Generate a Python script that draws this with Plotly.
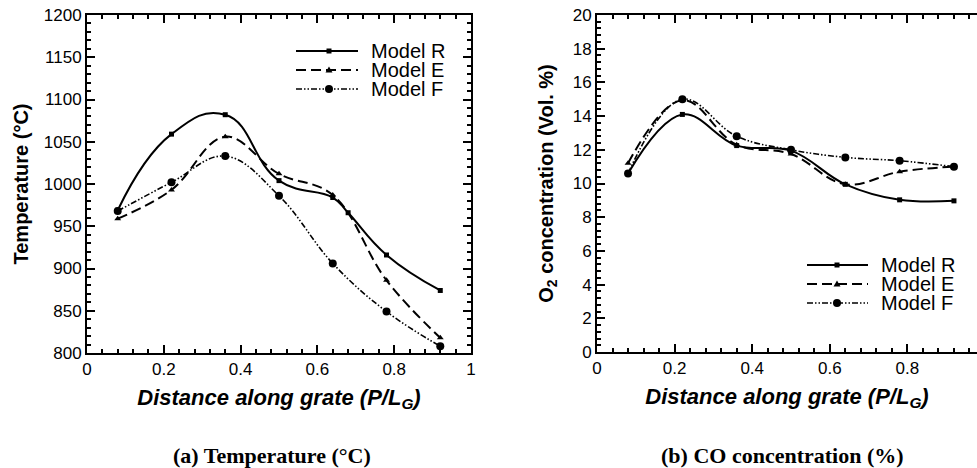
import plotly.graph_objects as go

# ---------------- data ----------------
series_names = ["Model R", "Model E", "Model F"]

# (a) Temperature
temp_x_R = [0.08, 0.22, 0.36, 0.50, 0.64, 0.68, 0.78, 0.92]
temp_R = [969, 1059, 1082, 1004, 984, 966, 916, 874]
temp_x_E = [0.08, 0.22, 0.36, 0.50, 0.64, 0.78, 0.92]
temp_E = [959, 993, 1056, 1012, 987, 886, 818]
temp_x_F = [0.08, 0.22, 0.36, 0.50, 0.64, 0.78, 0.92]
temp_F = [968, 1002, 1033, 986, 906, 849, 808]

# (b) O2 concentration
o2_x = [0.08, 0.22, 0.36, 0.50, 0.64, 0.78, 0.92]
o2_R = [10.6, 14.1, 12.25, 11.95, 9.95, 9.03, 8.97]
o2_E = [11.2, 14.95, 12.3, 11.75, 9.95, 10.7, 11.0]
o2_F = [10.6, 15.0, 12.8, 12.0, 11.55, 11.35, 11.0]

x_ticks = [0, 0.2, 0.4, 0.6, 0.8, 1]

# ---------------- styles ----------------
W, H = 977, 468          # browser window (page body margin removed below)
FONT = "Liberation Sans, Arial, Helvetica, sans-serif"
SERIF = "Liberation Serif, Times New Roman, serif"
DASH_E = "10px,5px"
DASH_F = "6px,2px,1.5px,2px,1.5px,2px"
styles = {
    "Model R": dict(dash="solid", width=2, symbol="square", msize=5),
    "Model E": dict(dash=DASH_E, width=2, symbol="triangle-up", msize=6),
    "Model F": dict(dash=DASH_F, width=1.6, symbol="circle", msize=8),
}


def px_x(p):
    return p / W


def px_y(p):
    return 1 - p / H


fig = go.Figure()


def add_series(xs, ys, name, xa, ya, smoothing=1.0):
    s = styles[name]
    fig.add_trace(go.Scatter(
        x=xs, y=ys, name=name, mode="lines+markers", xaxis=xa, yaxis=ya,
        line=dict(color="black", width=s["width"], dash=s["dash"], shape="spline", smoothing=smoothing),
        marker=dict(color="black", size=s["msize"], symbol=s["symbol"]),
        showlegend=False,
    ))


add_series(temp_x_R, temp_R, "Model R", "x", "y", 1.3)
add_series(temp_x_E, temp_E, "Model E", "x", "y", 1.1)
add_series(temp_x_F, temp_F, "Model F", "x", "y", 1.1)
add_series(o2_x, o2_R, "Model R", "x2", "y2", 1.1)
add_series(o2_x, o2_E, "Model E", "x2", "y2", 1.1)
add_series(o2_x, o2_F, "Model F", "x2", "y2", 1.1)

tickfont = dict(family=FONT, size=17, color="black")
titlefont = dict(family=FONT, size=20, color="black", weight="bold")
xtitlefont = dict(family=FONT, size=22, color="black", weight="bold", style="italic")

common_axis = dict(
    showgrid=False, zeroline=False, showline=True, linecolor="black", linewidth=2,
    ticks="inside", ticklen=8, tickwidth=1.5, tickcolor="black",
    tickfont=tickfont, automargin=False, ticklabeloverflow="allow",
)

fig.update_layout(
    width=W, height=H,
    margin=dict(l=0, r=0, t=0, b=0),
    paper_bgcolor="white", plot_bgcolor="white",
    xaxis=dict(common_axis, domain=[px_x(87), px_x(471)], range=[0, 1], tickvals=x_ticks,
               mirror="ticks", anchor="y",
               minor=dict(dtick=0.04, ticks="inside", ticklen=4, tickcolor="black"),
               title=dict(text="Distance along grate (P/L<sub>G</sub>)", font=xtitlefont, standoff=11)),
    yaxis=dict(common_axis, domain=[px_y(353), px_y(15)], range=[800, 1200], dtick=50,
               mirror="ticks", anchor="x",
               minor=dict(dtick=10, ticks="inside", ticklen=4, tickcolor="black"),
               title=dict(text="Temperature (°C)", font=titlefont, standoff=10)),
    xaxis2=dict(common_axis, domain=[px_x(597), 1.0], range=[0, (W - 597) / 388.0], tickvals=x_ticks,
                mirror="ticks", anchor="y2",
                minor=dict(dtick=0.04, ticks="inside", ticklen=4, tickcolor="black"),
                title=dict(text="Distance along grate (P/L<sub>G</sub>)", font=xtitlefont, standoff=11)),
    yaxis2=dict(common_axis, domain=[px_y(352), px_y(15)], range=[0, 20], dtick=2,
                mirror=False, anchor="x2",
                minor=dict(dtick=0.4, ticks="inside", ticklen=4, tickcolor="black"),
                title=dict(text="O<sub>2</sub> concentration (Vol. %)", font=titlefont, standoff=14)),
    yaxis3=dict(overlaying="y2", side="right", anchor="x2", range=[0, 20], dtick=2,
                showgrid=False, zeroline=False, showline=False, showticklabels=False,
                ticks="inside", ticklen=8, tickwidth=1.5, tickcolor="black",
                minor=dict(dtick=0.4, ticks="inside", ticklen=3, tickcolor="black")),
)

# ---------------- manual legends ----------------
shapes = []
annotations = []


def legend_entry(x0, x1, xm, yc, name):
    s = styles[name]
    shapes.append(dict(type="line", xref="paper", yref="paper",
                       x0=px_x(x0), x1=px_x(x1), y0=px_y(yc), y1=px_y(yc),
                       line=dict(color="black", width=s["width"], dash=s["dash"])))
    if s["symbol"] == "square":
        r = 2.5
        shapes.append(dict(type="rect", xref="paper", yref="paper",
                           x0=px_x(xm - r), x1=px_x(xm + r), y0=px_y(yc + r), y1=px_y(yc - r),
                           fillcolor="black", line=dict(width=0)))
    elif s["symbol"] == "circle":
        r = 4
        shapes.append(dict(type="circle", xref="paper", yref="paper",
                           x0=px_x(xm - r), x1=px_x(xm + r), y0=px_y(yc + r), y1=px_y(yc - r),
                           fillcolor="black", line=dict(width=0)))
    else:
        r = 3.5
        path = "M {} {} L {} {} L {} {} Z".format(
            px_x(xm - r), px_y(yc + r * 0.7), px_x(xm + r), px_y(yc + r * 0.7), px_x(xm), px_y(yc - r))
        shapes.append(dict(type="path", xref="paper", yref="paper", path=path,
                           fillcolor="black", line=dict(width=0)))
    annotations.append(dict(text=name, xref="paper", yref="paper", x=px_x(x1 + 11), y=px_y(yc),
                            xanchor="left", yanchor="middle", showarrow=False,
                            font=dict(family=FONT, size=20, color="black")))


for name, yc in zip(series_names, [51, 70, 89]):
    legend_entry(296, 358, 329, yc, name)
for name, yc in zip(series_names, [265, 284, 303]):
    legend_entry(807, 868, 837, yc, name)

# captions
annotations.append(dict(text="<b>(a) Temperature (°C)</b>", xref="paper", yref="paper",
                        x=px_x(272), y=px_y(455), xanchor="center", yanchor="middle", showarrow=False,
                        font=dict(family=SERIF, size=22, color="black")))
annotations.append(dict(text="<b>(b) CO concentration (%)</b>", xref="paper", yref="paper",
                        x=px_x(782), y=px_y(455), xanchor="center", yanchor="middle", showarrow=False,
                        font=dict(family=SERIF, size=22, color="black")))

fig.update_layout(shapes=shapes, annotations=annotations)

fig.write_html(
    "out.html",
    config={"displayModeBar": False},
    post_script="document.body.style.margin='0px'; document.body.style.overflow='hidden';",
)
